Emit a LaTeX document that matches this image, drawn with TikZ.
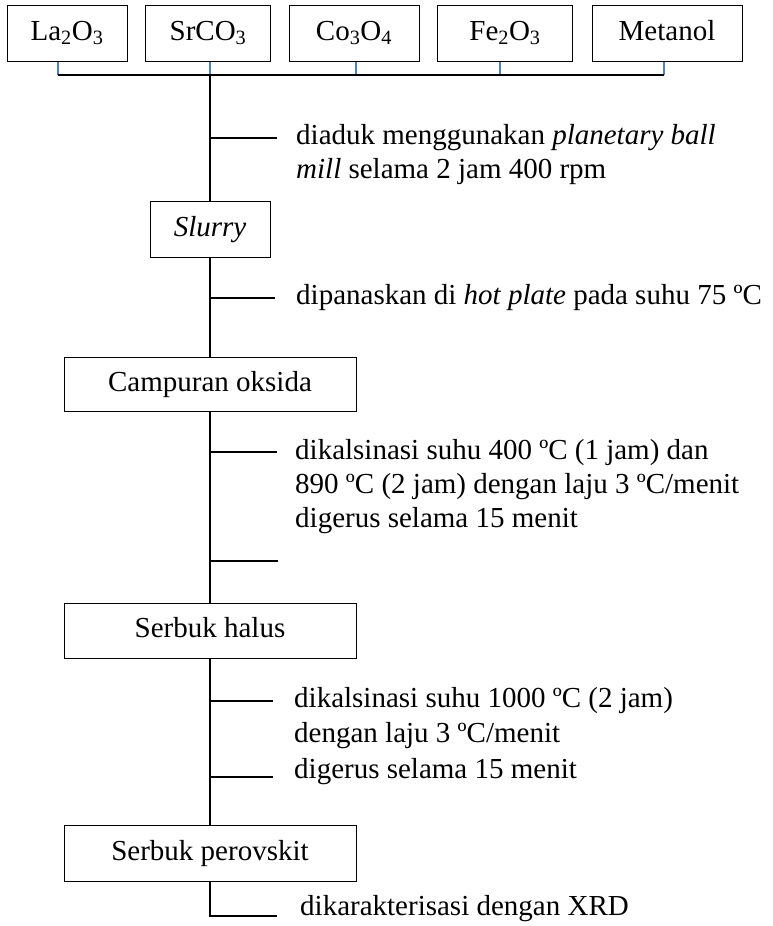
\documentclass[tikz,border=0pt]{standalone}
\usepackage{fontspec}
\setmainfont{Liberation Serif}
\usetikzlibrary{positioning}
\definecolor{biru}{RGB}{79,129,189}
\newcommand{\ukuran}{\fontsize{29pt}{34pt}\selectfont}
\newcommand{\bawah}[1]{\textsubscript{#1}}

\begin{document}
\begin{tikzpicture}[x=1pt,y=-1pt,
    kotak/.style={rectangle,draw,line width=1pt,minimum height=56pt,inner sep=0pt,text height=20pt,text depth=6pt,font=\ukuran},
    ket/.style={align=left,anchor=west,inner sep=0pt,font=\ukuran},
    garis/.style={line width=1.8pt},
    cabang/.style={line width=1.6pt},
    tik/.style={draw=biru,line width=1.3pt}]
    \useasboundingbox (0,0) rectangle (772,926);
    % kotak bahan awal
    \foreach \n/\x/\w/\t in {la/67/120/{La\bawah{2}O\bawah{3}},sr/208/125/{SrCO\bawah{3}},co/354/130/{Co\bawah{3}O\bawah{4}},fe/505/135/{Fe\bawah{2}O\bawah{3}},me/667/150/Metanol} {
        \node[kotak,minimum width=\w*1pt] (\n) at (\x,33) {\t};
    }
    % garis biru ke batang
    \foreach \n/\tx in {la/58,sr/210,co/356,fe/500,me/664} {
        \coordinate (t-\n) at (\tx,75);
        \draw[tik] (t-\n) -- (t-\n |- \n.south);
    }
    \draw[line width=2.4pt] (t-la) -- (t-me);
    % kotak proses
    \node[kotak,minimum width=120pt,font=\ukuran\itshape] (slurry) at (210,229) {Slurry};
    \node[kotak,minimum width=292pt,minimum height=54pt] (campuran) at (210,384) {Campuran oksida};
    \node[kotak,minimum width=292pt,minimum height=55pt] (halus) at (210,630.5) {Serbuk halus};
    \node[kotak,minimum width=292pt] (perovskit) at (210,853) {Serbuk perovskit};
    % batang utama
    \draw[garis] (t-sr) -- (slurry.north);
    \draw[garis] (slurry.south) -- (campuran.north);
    \draw[garis] (campuran.south) -- (halus.north);
    \draw[garis] (halus.south) -- (perovskit.north);
    % cabang keterangan
    \foreach \i/\y/\e in {1/138/277,2/298/275,3/452/277,4/561/278,5/701/273,6/777/273} {
        \coordinate (c\i) at (210,\y);
        \coordinate (e\i) at (\e,\y);
        \draw[cabang] (c\i) -- (e\i);
    }
    \coordinate (ujung) at (210,916);
    \coordinate (e7) at (277,916);
    \draw[cabang] (perovskit.south) -- (ujung) -- (e7);
    % teks keterangan
    \node[ket] (k1) at (296,155) {diaduk menggunakan \textit{planetary ball}\\\textit{mill} selama 2 jam 400 rpm};
    \node[ket] (k2) at (296,298) {dipanaskan di \textit{hot plate} pada suhu 75 ºC};
    \node[ket] (k3) at (295,486.5) {dikalsinasi suhu 400 ºC (1 jam) dan\\890 ºC (2 jam) dengan laju 3 ºC/menit\\digerus selama 15 menit};
    \node[ket,font=\fontsize{29pt}{35.5pt}\selectfont] (k4) at (294,736) {dikalsinasi suhu 1000 ºC (2 jam)\\dengan laju 3 ºC/menit\\digerus selama 15 menit};
    \node[ket] (k5) at (300,909) {dikarakterisasi dengan XRD};
\end{tikzpicture}
\end{document}
